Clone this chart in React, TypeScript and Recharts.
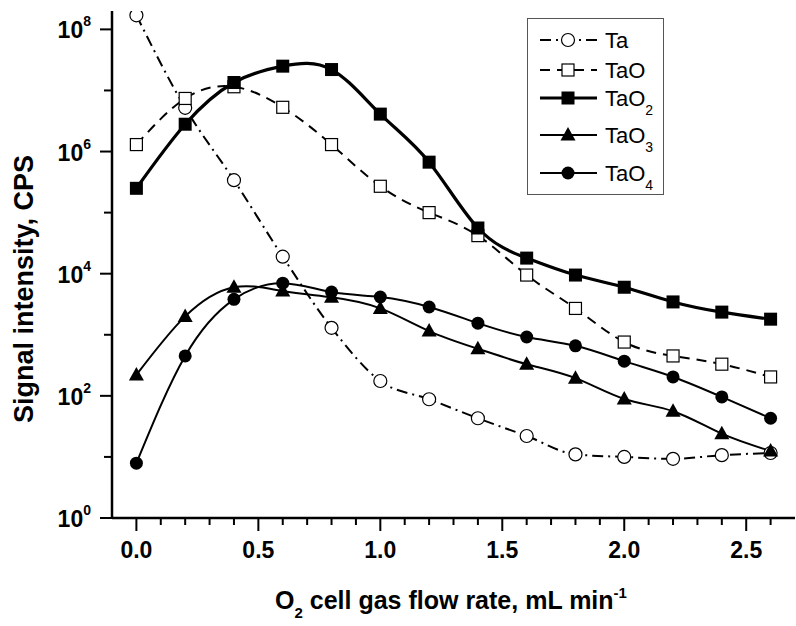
import React from 'react';
import { Legend, Line, LineChart, XAxis, YAxis } from 'recharts';

// O2 flow rate, mL/min
const flowRates = [0, 0.2, 0.4, 0.6, 0.8, 1.0, 1.2, 1.4, 1.6, 1.8, 2.0, 2.2, 2.4, 2.6];

// signal intensity, CPS
const ta = [1.7e8, 5.2e6, 3.4e5, 1.9e4, 1.3e3, 175, 88, 43, 22, 11, 10, 9.3, 10.7, 11.6];
const taO = [1.3e6, 7.4e6, 1.15e7, 5.3e6, 1.3e6, 2.7e5, 1.0e5, 4.2e4, 9.5e3, 2.7e3, 760, 450, 330, 204];
const taO2 = [2.5e5, 2.8e6, 1.35e7, 2.5e7, 2.2e7, 4.1e6, 6.7e5, 5.6e4, 1.8e4, 9.5e3, 6000, 3450, 2350, 1800];
const taO3 = [220, 2000, 6000, 5200, 4100, 2700, 1150, 590, 330, 195, 89, 56, 24, 12.5];
const taO4 = [7.9, 450, 3800, 7000, 5000, 4150, 2850, 1550, 920, 660, 370, 204, 96, 43];

const yTicks = [1, 1e1, 1e2, 1e3, 1e4, 1e5, 1e6, 1e7, 1e8];
const yLabelExps = [0, 2, 4, 6, 8];
const xTicks = [0, 0.1, 0.2, 0.3, 0.4, 0.5, 0.6, 0.7, 0.8, 0.9, 1.0, 1.1, 1.2, 1.3, 1.4, 1.5, 1.6, 1.7, 1.8, 1.9, 2.0, 2.1, 2.2, 2.3, 2.4, 2.5, 2.6];
const xLabels = [0, 0.5, 1.0, 1.5, 2.0, 2.5];

const FONT = '"Liberation Sans", Arial, sans-serif';

type MarkerKind = 'openCircle' | 'openSquare' | 'square' | 'triangle' | 'circle';

const series = [
  { key: 'ta', name: 'Ta', sub: '', values: ta, marker: 'openCircle' as MarkerKind, dash: '11 5 2 5', width: 2, curve: 'monotone' },
  { key: 'taO', name: 'TaO', sub: '', values: taO, marker: 'openSquare' as MarkerKind, dash: '10 7', width: 2, curve: 'natural' },
  { key: 'taO2', name: 'TaO', sub: '2', values: taO2, marker: 'square' as MarkerKind, dash: undefined, width: 3.2, curve: 'natural' },
  { key: 'taO3', name: 'TaO', sub: '3', values: taO3, marker: 'triangle' as MarkerKind, dash: undefined, width: 2, curve: 'natural' },
  { key: 'taO4', name: 'TaO', sub: '4', values: taO4, marker: 'circle' as MarkerKind, dash: undefined, width: 2, curve: 'natural' },
];

const data = flowRates.map((x, i) => {
  const row: Record<string, number> = { x };
  series.forEach((s) => {
    row[s.key] = s.values[i];
  });
  return row;
});

function Marker({ kind, cx, cy }: { kind: MarkerKind; cx?: number; cy?: number }) {
  if (cx == null || cy == null) return null;
  switch (kind) {
    case 'openCircle':
      return <circle cx={cx} cy={cy} r={6.5} fill="#fff" stroke="#000" strokeWidth={1.2} />;
    case 'openSquare':
      return <rect x={cx - 6} y={cy - 6} width={12} height={12} fill="#fff" stroke="#000" strokeWidth={1.2} />;
    case 'square':
      return <rect x={cx - 6.5} y={cy - 6.5} width={13} height={13} fill="#000" />;
    case 'triangle':
      return <polygon points={`${cx},${cy - 8} ${cx + 7.5},${cy + 5.5} ${cx - 7.5},${cy + 5.5}`} fill="#000" />;
    default:
      return <circle cx={cx} cy={cy} r={6.5} fill="#000" />;
  }
}

function XTick({ x, y, payload }: any) {
  const v = payload.value as number;
  const major = xLabels.some((l) => Math.abs(l - v) < 1e-6);
  return (
    <g>
      <line x1={x} x2={x} y1={y} y2={y + (major ? 13 : 7)} stroke="#000" strokeWidth={2} />
      {major && (
        <text x={x} y={y + 40} textAnchor="middle" fontFamily={FONT} fontWeight="bold" fontSize={23} fill="#000">
          {v.toFixed(1)}
        </text>
      )}
    </g>
  );
}

function YTick({ x, y, payload }: any) {
  const exp = Math.round(Math.log10(payload.value));
  const major = yLabelExps.includes(exp);
  return (
    <g>
      <line x1={x} x2={x - (major ? 12 : 8)} y1={y} y2={y} stroke="#000" strokeWidth={2} />
      {major && (
        <text x={x - 21} y={y + 9} textAnchor="end" fontFamily={FONT} fontWeight="bold" fontSize={23} fill="#000">
          10
          <tspan dy={-12} fontSize={14}>{exp}</tspan>
        </text>
      )}
    </g>
  );
}

function LegendBox() {
  const rows = [22, 52, 80, 117, 155];
  return (
    <svg width={138} height={178} style={{ display: 'block' }}>
      <rect x={0.5} y={0.5} width={136} height={176} fill="#fff" stroke="#555" strokeWidth={1} />
      {series.map((s, i) => (
        <g key={s.key}>
          <line x1={13} x2={70} y1={rows[i]} y2={rows[i]} stroke="#000" strokeWidth={s.width} strokeDasharray={s.dash ? s.dash : undefined} />
          <Marker kind={s.marker} cx={41} cy={rows[i]} />
          <text x={78} y={rows[i] + 8} fontFamily={FONT} fontSize={22} fill="#000">
            {s.name}
            {s.sub && (
              <tspan dy={9} fontSize={14}>{s.sub}</tspan>
            )}
          </text>
        </g>
      ))}
    </svg>
  );
}

export default function App() {
  return (
    <div style={{ position: 'absolute', left: 0, top: 0, width: 796, height: 626, background: '#fff' }}>
      <LineChart width={796} height={626} data={data} margin={{ top: 11, right: 1, left: 0, bottom: 8 }}>
        <XAxis
          dataKey="x"
          type="number"
          domain={[-0.1, 2.7]}
          ticks={xTicks}
          interval={0}
          height={100}
          tickSize={0}
          tickMargin={0}
          tickLine={false}
          tick={<XTick />}
          axisLine={{ stroke: '#000', strokeWidth: 2.5 }}
          label={{
            content: () => (
              <text x={451} y={609} textAnchor="middle" fontFamily={FONT} fontWeight="bold" fontSize={25} fill="#000">
                O<tspan dy={9} fontSize={15}>2</tspan>
                <tspan dy={-9}> cell gas flow rate, mL min</tspan>
                <tspan dy={-11} fontSize={15}>-1</tspan>
              </text>
            ),
          }}
        />
        <YAxis
          scale="log"
          domain={[1, 2e8]}
          allowDataOverflow
          ticks={yTicks}
          interval={0}
          width={112}
          tickSize={0}
          tickMargin={0}
          tickLine={false}
          tick={<YTick />}
          axisLine={{ stroke: '#000', strokeWidth: 2.5 }}
          label={{
            content: () => (
              <text
                x={0}
                y={0}
                transform="translate(33 289) rotate(-90)"
                textAnchor="middle"
                fontFamily={FONT}
                fontWeight="bold"
                fontSize={27}
                fill="#000"
              >
                Signal intensity, CPS
              </text>
            ),
          }}
        />
        <Legend
          layout="horizontal"
          verticalAlign="middle"
          align="center"
          content={() => <LegendBox />}
          wrapperStyle={{ position: 'absolute', left: 527, top: 18, width: 138, height: 178 }}
        />
        {series.map((s) => (
          <Line
            key={s.key}
            dataKey={s.key}
            name={s.name + s.sub}
            type={s.curve as any}
            stroke="#000"
            strokeWidth={s.width}
            strokeDasharray={s.dash}
            isAnimationActive={false}
            dot={(p: any) => <Marker key={`${s.key}-${p.index}`} kind={s.marker} cx={p.cx} cy={p.cy} />}
            activeDot={false}
          />
        ))}
      </LineChart>
    </div>
  );
}
